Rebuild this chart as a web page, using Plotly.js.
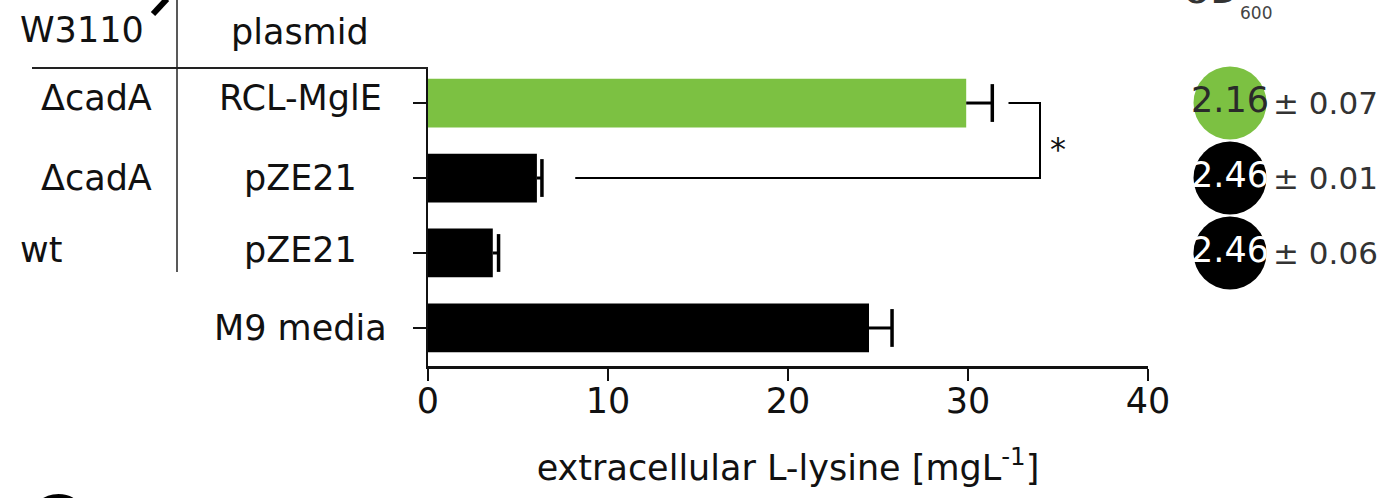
<!DOCTYPE html>
<html><head><meta charset="utf-8">
<script src="https://cdn.plot.ly/plotly-3.0.1.min.js"></script>
<style>html,body{margin:0;padding:0;background:#fff;}#chart{width:1387px;height:498px;}</style>
</head><body><div id="chart"></div>
<script>
// ---- data ----
const rowIds = ["ΔcadA RCL-MglE", "ΔcadA pZE21", "wt pZE21", "M9 media"];
const strains = ["ΔcadA", "ΔcadA", "wt", ""];
const plasmids = ["RCL-MglE", "pZE21", "pZE21", "M9 media"];
const lysine = [29.9, 6.05, 3.6, 24.5];
const lysineErr = [1.45, 0.28, 0.32, 1.28];
const barColors = ["#7cc142", "#000000", "#000000", "#000000"];
const odRows = ["ΔcadA RCL-MglE", "ΔcadA pZE21", "wt pZE21"];
const odMean = [2.16, 2.46, 2.46];
const odSd = [0.07, 0.01, 0.06];
const odColors = ["#7cc142", "#000000", "#000000"];
const odTextColors = ["#2a2a2a", "#ffffff", "#ffffff"];
const xTicks = [0, 10, 20, 30, 40];
const xTitle = "extracellular L-lysine [mgL<sup>-1</sup>]";
const headers = {strain: "W3110", plasmid: "plasmid", od: "OD", odSub: "600"};

// ---- layout helpers (pixel -> paper) ----
const W = 1387, H = 498, ML = 428, MR = 0, MT = 68, MB = 132;
const PW = W - ML - MR, PH = H - MT - MB;
const px = x => (x - ML) / PW;
const py = y => (H - MB - y) / PH;
const FONT = "DejaVu Sans";
const FS = 35;

const rowIdx = rowIds.map((_, i) => i);
const odIdx = odRows.map(r => rowIds.indexOf(r));

// one-sided error bars: stem from bar end to bar end + error, cap at the far end
const errX = [], errY = [];
lysine.forEach((v, i) => { errX.push(v, v + lysineErr[i], null); errY.push(i, i, null); });

const traces = [
  {
    type: "bar", orientation: "h",
    x: lysine, y: rowIdx, customdata: rowIds,
    marker: {color: barColors, line: {width: 0}},
    width: 0.65,
    xaxis: "x", yaxis: "y", hovertemplate: "%{customdata}: %{x}<extra></extra>"
  },
  {
    type: "scatter", mode: "lines", x: errX, y: errY,
    line: {color: "#000", width: 3}, xaxis: "x", yaxis: "y", hoverinfo: "skip", cliponaxis: false
  },
  {
    type: "scatter", mode: "markers",
    x: lysine.map((v, i) => v + lysineErr[i]), y: rowIdx,
    marker: {symbol: "line-ns", size: 27, line: {color: "#000", width: 3.5}},
    xaxis: "x", yaxis: "y", hoverinfo: "skip", cliponaxis: false
  },
  {
    type: "scatter", mode: "markers+text",
    x: odRows.map(() => 0), y: odIdx,
    marker: {size: 73, color: odColors, line: {width: 0}},
    text: odMean.map(v => v.toFixed(2)), textposition: "middle center",
    textfont: {family: FONT, size: FS, color: odTextColors},
    cliponaxis: false, xaxis: "x2", yaxis: "y", hoverinfo: "skip"
  }
];

const annotations = [];
// table headers
annotations.push({xref: "paper", yref: "paper", x: px(146), y: py(30), xanchor: "right", yanchor: "middle",
  text: headers.strain, showarrow: false, font: {family: FONT, size: FS, color: "#111"}});
annotations.push({xref: "paper", yref: "paper", x: px(300), y: py(32), xanchor: "center", yanchor: "middle",
  text: headers.plasmid, showarrow: false, font: {family: FONT, size: FS, color: "#111"}});
const rowShift = [5, 0, 3, 0];
rowIds.forEach((r, i) => {
  if (strains[i]) {
    const isWt = strains[i] === "wt";
    annotations.push({xref: "paper", yref: "y", x: isWt ? px(18) : px(154), y: i,
      xanchor: isWt ? "left" : "right", yanchor: "middle", yshift: rowShift[i],
      text: strains[i], showarrow: false, font: {family: FONT, size: FS, color: "#111"}});
  }
  annotations.push({xref: "paper", yref: "y", x: px(300), y: i, xanchor: "center", yanchor: "middle",
    yshift: rowShift[i], text: plasmids[i], showarrow: false, font: {family: FONT, size: FS, color: "#111"}});
});
// OD sd texts
odRows.forEach((r, k) => {
  annotations.push({xref: "paper", yref: "y", x: px(1271), y: odIdx[k], xanchor: "left", yanchor: "middle",
    text: "± " + odSd[k].toFixed(2), showarrow: false, font: {family: FONT, size: 31, color: "#333"}});
});
// OD600 header (cut at top)
annotations.push({xref: "paper", yref: "paper", x: px(1210), y: py(-9), xanchor: "center", yanchor: "middle",
  text: headers.od, showarrow: false, font: {family: FONT, size: FS, color: "#333"}});
annotations.push({xref: "paper", yref: "paper", x: px(1256), y: py(12.5), xanchor: "center", yanchor: "middle",
  text: headers.odSub, showarrow: false, font: {family: FONT, size: 17, color: "#444"}});
// significance star
const brTop = lysine[0] + lysineErr[0] + 0.9;
const brX = lysine[0] + lysineErr[0] + 2.65;
const brBot = lysine[1] + lysineErr[1] + 1.85;
annotations.push({xref: "x", yref: "y", x: brX + 1.0, y: 0.5, xanchor: "center", yanchor: "middle", yshift: -8,
  text: "*", showarrow: false, font: {family: FONT, size: 32, color: "#111"}});
// panel letter partially visible at the bottom-left
annotations.push({xref: "paper", yref: "paper", x: px(57), y: py(520), xanchor: "center", yanchor: "middle",
  text: "<b>C</b>", showarrow: false, font: {family: "Liberation Sans", size: 72, color: "#000"}});

const shapes = [
  {type: "line", xref: "paper", yref: "paper", x0: px(32), x1: px(428), y0: py(68), y1: py(68),
   line: {color: "#222", width: 2}},
  {type: "line", xref: "paper", yref: "paper", x0: px(177), x1: px(177), y0: py(-2), y1: py(272),
   line: {color: "#222", width: 1.5}},
  {type: "line", xref: "paper", yref: "paper", x0: px(153), x1: px(167), y0: py(14), y1: py(-1),
   line: {color: "#000", width: 6}},
  {type: "path", xref: "x", yref: "y",
   path: `M ${brTop} 0 L ${brX} 0 L ${brX} 1 L ${brBot} 1`,
   line: {color: "#000", width: 2}}
];

const layout = {
  width: W, height: H,
  margin: {l: ML, r: MR, t: MT, b: MB, pad: 0},
  paper_bgcolor: "#fff", plot_bgcolor: "#fff",
  showlegend: false,
  font: {family: FONT, size: FS, color: "#111"},
  xaxis: {
    domain: [0, 720 / PW], range: [0, 40], anchor: "y",
    tickvals: xTicks, ticktext: xTicks.map(String),
    ticks: "outside", ticklen: 12, tickwidth: 2.5, tickcolor: "#111",
    ticklabelstandoff: -10,
    showline: true, linewidth: 2.5, linecolor: "#111",
    showgrid: false, zeroline: false,
    tickfont: {family: FONT, size: FS, color: "#111"},
    title: {text: xTitle, font: {family: FONT, size: FS, color: "#111"}, standoff: 36}
  },
  xaxis2: {domain: [px(1195), px(1265)], range: [-1, 1], anchor: "y", visible: false, showgrid: false, zeroline: false},
  yaxis: {
    range: [3.507, -0.467], tickvals: rowIdx, showticklabels: false,
    ticks: "outside", ticklen: 13, tickwidth: 2, tickcolor: "#111",
    showline: true, linewidth: 2, linecolor: "#111",
    showgrid: false, zeroline: false
  },
  annotations: annotations,
  shapes: shapes
};

Plotly.newPlot("chart", traces, layout, {displayModeBar: false, staticPlot: true});
</script>
</body></html>
